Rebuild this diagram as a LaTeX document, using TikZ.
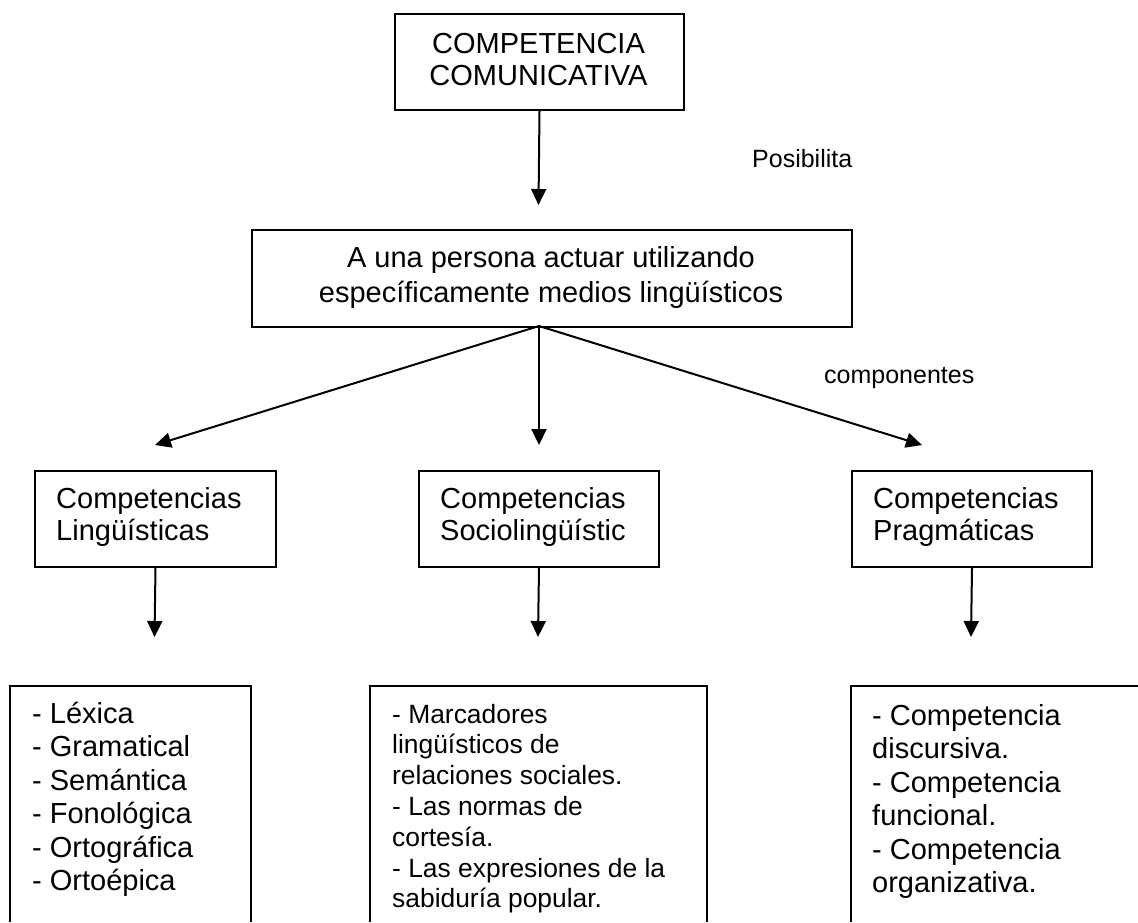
\documentclass[tikz,border=0pt]{standalone}
\usepackage{fontspec}
\setmainfont{Liberation Sans}
\usetikzlibrary{arrows.meta}

% multi-line text blocks whose reference point is the first baseline
\newcommand{\leftlines}[1]{\begin{tabular}[t]{@{}l@{}}#1\end{tabular}}
\newcommand{\centerlines}[1]{\begin{tabular}[t]{@{}c@{}}#1\end{tabular}}

\begin{document}
\begin{tikzpicture}[x=1pt, y=-1pt,
  box/.style={draw, line width=2pt, rectangle, inner sep=0pt, anchor=north west},
  frame/.style={line width=2pt},
  arr/.style={line width=2pt, -{Triangle[length=16pt,width=15pt]}},
  ctext/.style={inner sep=0pt, anchor=base, font=\fontsize{29}{32}\selectfont},
  ltext/.style={inner sep=0pt, anchor=base west, font=\fontsize{29}{32}\selectfont},
  listtext/.style={inner sep=0pt, anchor=base west, font=\fontsize{29}{33.5}\selectfont},
  smalllist/.style={inner sep=0pt, anchor=base west, font=\fontsize{26.4}{30.8}\selectfont},
  label/.style={inner sep=0pt, anchor=base west, font=\fontsize{25}{30}\selectfont}]
\useasboundingbox (0,0) rectangle (1138,922);

% top box
\node[box, minimum width=289pt, minimum height=96pt] (tb) at (394,13) {};
\node[ctext] (tbtext) at (538.5,53) {\centerlines{COMPETENCIA\\COMUNICATIVA}};

% second box
\node[box, minimum width=600pt, minimum height=97pt] (mb) at (251,229) {};
\node[ctext, font=\fontsize{29}{35}\selectfont] (mbtext) at (551,267)
  {\centerlines{A una persona actuar utilizando\\específicamente medios lingüísticos}};

\coordinate (mbtip) at (538.5,205);
\draw[arr] (tb.south) -- (mbtip);
\node[label] (posib) at (752,167) {Posibilita};

% three component boxes
\node[box, minimum width=241pt, minimum height=96pt] (lc) at (34,470) {};
\node[box, minimum width=240pt, minimum height=96pt] (mc) at (418,470) {};
\node[box, minimum width=240pt, minimum height=96pt] (rc) at (851,470) {};
\node[ltext] (lctext) at (56,508) {\leftlines{Competencias\\Lingüísticas}};
\node[ltext] (mctext) at (440,508) {\leftlines{Competencias\\Sociolingüístic}};
\node[ltext] (rctext) at (873,508) {\leftlines{Competencias\\Pragmáticas}};

% branching arrows
\coordinate (hub) at (539,326);
\coordinate (lctip) at (155,445);
\coordinate (mctip) at (539,445);
\coordinate (rctip) at (922,445);
\draw[arr] (hub) -- (lctip);
\draw[arr] (hub) -- (mctip);
\draw[arr] (hub) -- (rctip);
\node[label] (comp) at (824,383) {componentes};

% arrows to the detail boxes
\coordinate (lbtip) at (154.5,637);
\coordinate (mbtip2) at (538,637);
\coordinate (rbtip) at (971,637);
\draw[arr] (lc.south) -- (lbtip);
\draw[arr] (mc.south) -- (mbtip2);
\draw[arr] (rc.south) -- (rbtip);

% detail boxes, open at the bottom
\draw[frame] (10,922) -- (10,686) -- (251,686) -- (251,922);
\draw[frame] (370,922) -- (370,686) -- (707,686) -- (707,922);
\draw[frame] (851,922) -- (851,686) -- (1138,686);

\node[listtext] (lbtext) at (32,723)
  {\leftlines{- Léxica\\- Gramatical\\- Semántica\\- Fonológica\\- Ortográfica\\- Ortoépica}};
\node[smalllist] (mbtext2) at (392,723)
  {\leftlines{- Marcadores\\lingüísticos de\\relaciones sociales.\\- Las normas de\\cortesía.\\- Las expresiones de la\\sabiduría popular.}};
\node[listtext] (rbtext) at (872,725)
  {\leftlines{- Competencia\\discursiva.\\- Competencia\\funcional.\\- Competencia\\organizativa.}};
\end{tikzpicture}
\end{document}
